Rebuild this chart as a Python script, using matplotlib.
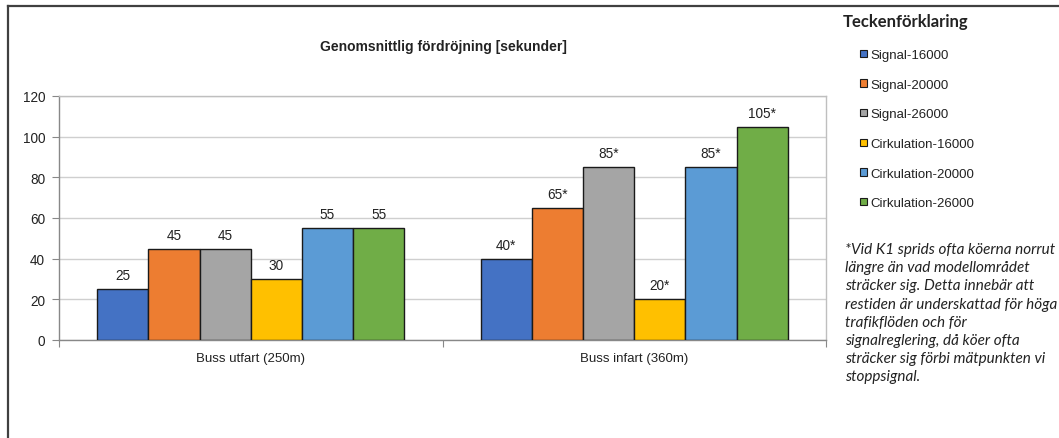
import matplotlib
matplotlib.use("Agg")
import matplotlib.pyplot as plt
from matplotlib.lines import Line2D
from matplotlib.patches import Patch
import numpy as np

categories = ["Buss utfart (250m)", "Buss infart (360m)"]
series_names = ["Signal-16000", "Signal-20000", "Signal-26000",
                "Cirkulation-16000", "Cirkulation-20000", "Cirkulation-26000"]
values = {
    "Signal-16000": [25, 40],
    "Signal-20000": [45, 65],
    "Signal-26000": [45, 85],
    "Cirkulation-16000": [30, 20],
    "Cirkulation-20000": [55, 85],
    "Cirkulation-26000": [55, 105],
}
value_labels = {
    "Signal-16000": ["25", "40*"],
    "Signal-20000": ["45", "65*"],
    "Signal-26000": ["45", "85*"],
    "Cirkulation-16000": ["30", "20*"],
    "Cirkulation-20000": ["55", "85*"],
    "Cirkulation-26000": ["55", "105*"],
}
colors = ["#4472C4", "#ED7D31", "#A5A5A5", "#FFC000", "#5B9BD5", "#70AD47"]
y_ticks = [0, 20, 40, 60, 80, 100, 120]

title = "Genomsnittlig fördröjning [sekunder]"
legend_title = "Teckenförklaring"
footnote = ("*Vid K1 sprids ofta köerna norrut\n"
            "längre än vad modellområdet\n"
            "sträcker sig. Detta innebär att\n"
            "restiden är underskattad för höga\n"
            "trafikflöden och för\n"
            "signalreglering, då köer ofta\n"
            "sträcker sig förbi mätpunkten vi\n"
            "stoppsignal.")

plt.rcParams["font.family"] = ["Liberation Sans", "DejaVu Sans"]

W, H = 1059, 439
fig = plt.figure(figsize=(W / 100, H / 100), dpi=100)
fig.patch.set_facecolor("white")

# outer frame (top and left edges only)
frame_col = "#404040"
fig.add_artist(Line2D([8 / W, 1.0], [1 - 7 / H, 1 - 7 / H], transform=fig.transFigure,
                      color=frame_col, lw=1.6))
fig.add_artist(Line2D([8 / W, 8 / W], [0, 1 - 7 / H], transform=fig.transFigure,
                      color=frame_col, lw=1.6))

left, right, top, bottom = 59, 826, 97, 341
ax = fig.add_axes([left / W, 1 - bottom / H, (right - left) / W, (bottom - top) / H])

x = np.arange(len(categories))
n = len(series_names)
group_w = 0.8
bw = group_w / n
for i, name in enumerate(series_names):
    pos = x - group_w / 2 + bw * (i + 0.5)
    bars = ax.bar(pos, values[name], width=bw, color=colors[i], edgecolor="#1a1a1a",
                  linewidth=1.0, zorder=3, label=name)
    for b, lab in zip(bars, value_labels[name]):
        ax.annotate(lab, (b.get_x() + b.get_width() / 2, b.get_height()),
                    xytext=(0, 5), textcoords="offset points",
                    ha="center", va="bottom", fontsize=9.8, color="#222222")

ax.set_xlim(-0.5, len(categories) - 0.5)
ax.set_ylim(0, 120)
ax.set_yticks(y_ticks)
ax.set_yticklabels([str(t) for t in y_ticks], fontsize=9.8, color="#222222")
ax.yaxis.grid(True, color="#CFCFCF", lw=1.0, zorder=0)
ax.set_axisbelow(True)

ax.set_xticks(np.arange(-0.5, len(categories)), minor=False)
ax.set_xticklabels([])
ax.set_xticks(x, minor=True)
ax.set_xticklabels(categories, minor=True, fontsize=9.5, color="#222222")
ax.tick_params(axis="x", which="minor", length=0, pad=9)
ax.tick_params(axis="x", which="major", length=5, color="#888888", direction="out")
ax.tick_params(axis="y", length=5, color="#888888", direction="out", pad=5)

for s in ["left", "bottom"]:
    ax.spines[s].set_color("#888888")
    ax.spines[s].set_linewidth(1.0)
for s in ["top", "right"]:
    ax.spines[s].set_color("#BFBFBF")
    ax.spines[s].set_linewidth(1.0)

fig.text(443 / W, 1 - 47 / H, title, ha="center", va="center", fontsize=10,
         fontweight="bold", color="#222222")

# legend
fig.text(843 / W, 1 - 22 / H, legend_title, ha="left", va="center", fontsize=12,
         fontweight="bold", family=["Lato", "DejaVu Sans"], color="#222222")
handles = [Patch(facecolor=c, edgecolor="#1a1a1a", linewidth=0.8) for c in colors]
leg = fig.legend(handles, series_names, loc="upper left",
                 bbox_to_anchor=(860 / W, 1 - 50 / H), frameon=False,
                 fontsize=9.5, handlelength=0.5, handleheight=0.5,
                 handletextpad=0.3, labelspacing=1.34, borderpad=0, borderaxespad=0)
for t in leg.get_texts():
    t.set_color("#222222")

fig.text(845 / W, 1 - 243 / H, footnote, ha="left", va="top", fontsize=11,
         style="italic", family=["Lato", "DejaVu Sans"], color="#222222",
         linespacing=1.38)

fig.savefig("out.png", dpi=100, facecolor="white")
